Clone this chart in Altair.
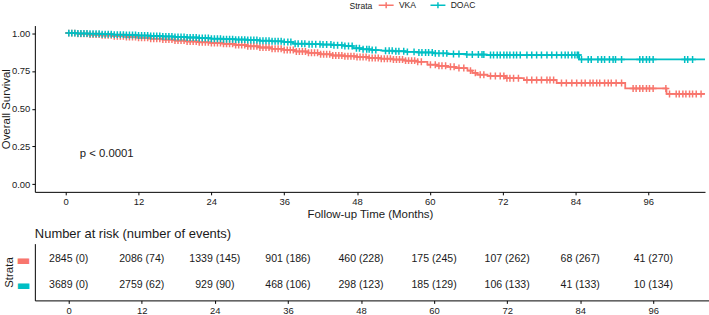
import altair as alt
import numpy as np
import pandas as pd

# Strata and their colours
GROUPS = ["VKA", "DOAC"]
COLORS = ["#F8766D", "#00BFC4"]

# Kaplan-Meier step points (months, survival probability)
VKA_TIME = [0, 2, 4, 6, 8, 10, 12, 14, 16, 18, 20, 22, 24, 26, 28, 30, 32, 34, 36, 38,
            40, 42, 44, 46, 48, 50, 52, 54, 56, 58, 59.6, 61.2, 62.8, 64.2, 66.2, 67.0,
            67.8, 69.5, 72.5, 75.5, 80.9, 92.2, 99.0, 105.6]
VKA_SURV = [1.000, 0.995, 0.990, 0.985, 0.980, 0.975, 0.969, 0.963, 0.957, 0.951, 0.945,
            0.939, 0.934, 0.929, 0.921, 0.913, 0.905, 0.896, 0.888, 0.879, 0.870, 0.860,
            0.852, 0.847, 0.842, 0.836, 0.831, 0.825, 0.818, 0.810, 0.791, 0.784, 0.777,
            0.769, 0.752, 0.737, 0.725, 0.717, 0.702, 0.690, 0.670, 0.634, 0.598, 0.598]

DOAC_TIME = [0, 2, 4, 6, 8, 10, 12, 14, 16, 18, 20, 22, 24, 26, 28, 30, 32, 34, 36, 37.5,
             40, 42, 44, 46, 47.3, 49, 50.5, 52, 54, 56, 58, 60.5, 63, 66, 69.4, 84.6, 105.6]
DOAC_SURV = [1.000, 0.998, 0.996, 0.993, 0.990, 0.987, 0.984, 0.981, 0.978, 0.975, 0.971,
             0.967, 0.963, 0.960, 0.957, 0.954, 0.950, 0.946, 0.941, 0.930, 0.927, 0.924,
             0.920, 0.915, 0.900, 0.893, 0.888, 0.884, 0.880, 0.876, 0.872, 0.866, 0.862,
             0.858, 0.855, 0.826, 0.826]

# Censoring times (months)
VKA_CENSOR = [
    0.5, 1.0, 1.5, 2.0, 2.5, 3.0, 3.5, 4.0, 4.5, 5.0, 5.5, 6.0, 6.5, 7.0, 7.5, 8.0,
    8.5, 9.0, 9.5, 10.0, 10.5, 11.0, 11.5, 12.0, 12.5, 13.0, 13.5, 14.0, 14.5, 15.0,
    15.5, 16.0, 16.5, 17.0, 17.5, 18.0, 18.5, 19.0, 19.5, 20.0, 20.5, 21.0, 21.5, 22.0,
    22.5, 23.0, 23.5, 24.0, 24.5, 25.0, 25.5, 26.0, 26.5, 27.0, 27.5, 28.0, 28.5, 29.0,
    29.5, 30.0, 30.5, 31.0, 31.5, 32.0, 32.5, 33.0, 33.5, 34.0, 34.5, 35.0, 35.5, 36.0,
    36.5, 37.0, 37.5, 38.0, 38.5, 39.0, 39.5, 40.0, 40.5, 41.0, 41.5, 42.0, 42.5, 43.0,
    43.5, 44.0, 44.5, 45.0, 45.5, 46.0, 46.5, 47.0, 47.5, 48.0, 48.5, 49.0, 49.5, 50.0,
    50.5, 51.0, 51.5, 52.0, 52.5, 53.0, 53.5, 54.0, 54.5, 55.0, 55.5, 56.0, 56.5, 57.0,
    57.5, 58.0, 58.6, 60.1, 60.9, 61.5, 62.0, 62.6, 63.4, 64.0, 64.8, 65.6, 66.7, 67.5,
    68.3, 68.9, 70.0, 70.8, 71.6, 72.2, 72.7, 73.2, 73.8, 74.6, 76.0, 76.8, 77.6, 78.4,
    79.3, 79.8, 80.4, 81.7, 82.5, 83.4, 84.2, 85.0, 85.6, 86.4, 86.9, 87.5, 88.0, 88.8,
    89.4, 89.9, 90.7, 91.6, 93.5, 94.0, 94.6, 95.1, 95.7, 96.2, 96.8, 98.9, 99.5, 100.6,
    101.1, 101.7, 102.2, 102.8, 103.3, 103.9, 104.7,
]
DOAC_CENSOR = [
    0.5, 1.0, 1.5, 2.0, 2.5, 3.0, 3.5, 4.0, 4.5, 5.0, 5.5, 6.0, 6.5, 7.0, 7.5, 8.0,
    8.5, 9.0, 9.5, 10.0, 10.5, 11.0, 11.5, 12.0, 12.5, 13.0, 13.5, 14.0, 14.5, 15.0,
    15.5, 16.0, 16.5, 17.0, 17.5, 18.0, 18.5, 19.0, 19.5, 20.0, 20.5, 21.0, 21.5, 22.0,
    22.5, 23.0, 23.5, 24.0, 24.5, 25.0, 25.5, 26.0, 26.5, 27.0, 27.5, 28.0, 28.5, 29.0,
    29.5, 30.0, 30.5, 31.0, 31.5, 32.0, 32.5, 33.0, 33.5, 34.0, 34.5, 35.0, 35.5, 36.0,
    36.6, 37.1, 37.8, 38.3, 38.9, 39.4, 40.1, 40.6, 41.2, 41.9, 42.4, 43.0, 43.7, 44.2,
    44.8, 45.5, 46.0, 46.6, 47.2, 47.9, 48.4, 49.0, 49.6, 50.0, 50.5, 51.1, 52.7, 53.3,
    53.8, 54.4, 54.9, 55.7, 56.3, 57.4, 58.2, 58.7, 59.3, 59.8, 60.4, 60.9, 61.5, 62.2,
    62.8, 63.9, 64.8, 66.1, 67.0, 68.0, 68.6, 68.9, 70.0, 70.5, 71.1, 71.6, 72.2, 72.7,
    73.2, 73.8, 74.3, 74.9, 76.0, 76.8, 77.6, 78.4, 79.3, 80.1, 80.9, 81.7, 82.3, 82.8,
    83.4, 83.9, 84.3, 84.5, 85.0, 86.1, 86.6, 87.7, 88.3, 88.8, 89.6, 90.2, 90.6, 91.6,
    94.6, 95.1, 95.7, 96.2, 96.8, 102.0, 102.5, 103.3,
]

# Number at risk table
RISK_MONTHS = [0, 12, 24, 36, 48, 60, 72, 84, 96]
VKA_AT_RISK = [2845, 2086, 1339, 901, 460, 175, 107, 68, 41]
VKA_EVENTS = [0, 74, 145, 186, 228, 245, 262, 267, 270]
DOAC_AT_RISK = [3689, 2759, 929, 468, 298, 185, 106, 41, 10]
DOAC_EVENTS = [0, 62, 90, 106, 123, 129, 133, 133, 134]

SURV_TICKS = [0, 0.25, 0.5, 0.75, 1.0]
P_TEXT = "p < 0.0001"
P_POS = (2.3, 0.2)

FONT = "Liberation Sans"
INK = "#1a1a1a"

# ---- tidy tables -------------------------------------------------------
curves = pd.concat([
    pd.DataFrame({"time": VKA_TIME, "surv": VKA_SURV, "strata": "VKA"}),
    pd.DataFrame({"time": DOAC_TIME, "surv": DOAC_SURV, "strata": "DOAC"}),
], ignore_index=True)


def censor_frame(times, step_t, step_s, name):
    t = np.asarray(times, dtype=float)
    idx = np.searchsorted(np.asarray(step_t, dtype=float), t, side="right") - 1
    return pd.DataFrame({"time": t, "surv": np.asarray(step_s)[idx], "strata": name})


censors = pd.concat([
    censor_frame(VKA_CENSOR, VKA_TIME, VKA_SURV, "VKA"),
    censor_frame(DOAC_CENSOR, DOAC_TIME, DOAC_SURV, "DOAC"),
], ignore_index=True)

risk = pd.concat([
    pd.DataFrame({"month": RISK_MONTHS, "strata": "VKA",
                  "label": [f"{n} ({e})" for n, e in zip(VKA_AT_RISK, VKA_EVENTS)]}),
    pd.DataFrame({"month": RISK_MONTHS, "strata": "DOAC",
                  "label": [f"{n} ({e})" for n, e in zip(DOAC_AT_RISK, DOAC_EVENTS)]}),
], ignore_index=True)

ptext = pd.DataFrame({"time": [P_POS[0]], "surv": [P_POS[1]], "label": [P_TEXT]})

# ---- survival panel ----------------------------------------------------
x_main = alt.X(
    "time:Q",
    scale=alt.Scale(domain=[-5.09, 105.35], nice=False, zero=False),
    axis=alt.Axis(values=RISK_MONTHS, title="Follow-up Time (Months)", grid=False,
                  tickSize=3, labelPadding=2, titlePadding=2),
)
y_main = alt.Y(
    "surv:Q",
    scale=alt.Scale(domain=[-0.05, 1.05], nice=False, zero=False),
    axis=alt.Axis(values=SURV_TICKS, format=".2f", title="Overall Survival", grid=False,
                  tickSize=3, labelPadding=2, minExtent=23, maxExtent=23, titlePadding=0),
)
color = alt.Color(
    "strata:N",
    scale=alt.Scale(domain=GROUPS, range=COLORS),
    legend=alt.Legend(
        title="Strata", orient="none", direction="horizontal", titleOrient="left",
        legendX=316, legendY=-25, symbolType="M-2.5,0H2.5M0,-1V1", symbolSize=36,
        symbolStrokeWidth=1.5, symbolFillColor="transparent", labelFontSize=8.6,
        titleFontSize=8.6, titleFontWeight="normal", labelFont=FONT, titleFont=FONT,
        labelColor=INK, titleColor=INK, columnPadding=10, labelOffset=8.5,
        titlePadding=9.5,
    ),
)

lines = alt.Chart(curves).mark_line(
    interpolate="step-after", strokeWidth=1.8, clip=True
).encode(x=x_main, y=y_main, color=color, detail="strata:N")

marks = alt.Chart(censors).mark_point(
    shape="M-1,0H1M0,-1V1", filled=False, size=49, strokeWidth=1.5, opacity=1, clip=True
).encode(x="time:Q", y="surv:Q",
         color=alt.Color("strata:N", scale=alt.Scale(domain=GROUPS, range=COLORS)))

pval = alt.Chart(ptext).mark_text(
    align="left", baseline="middle", fontSize=11.4, font=FONT, color=INK
).encode(x="time:Q", y="surv:Q", text="label:N")

main = alt.layer(lines, marks, pval).properties(width=673, height=167)

# ---- number-at-risk panel ---------------------------------------------
table = alt.Chart(risk).mark_text(
    fontSize=10.6, font=FONT, color=INK, baseline="middle"
).encode(
    x=alt.X("month:Q",
            scale=alt.Scale(domain=[-5.56, 105.15], nice=False, zero=False),
            axis=alt.Axis(values=RISK_MONTHS, title=None, grid=False, tickSize=3,
                          labelPadding=2)),
    y=alt.Y("strata:N",
            scale=alt.Scale(domain=GROUPS, type="point", padding=0.6),
            axis=alt.Axis(title="Strata", labelExpr="'\u25ac'", ticks=False,
                          labelFont="DejaVu Sans", labelFontSize=15, labelPadding=5,
                          labelColor={"condition": {"test": "datum.value == 'VKA'",
                                                    "value": COLORS[0]},
                                      "value": COLORS[1]},
                          minExtent=17, maxExtent=17, titlePadding=3)),
    text="label:N",
).properties(
    width=677, height=57,
    title=alt.TitleParams("Number at risk (number of events)", anchor="start",
                          frame="group", fontSize=13, fontWeight="normal", font=FONT,
                          color=INK, offset=3),
)

chart = alt.vconcat(main, table, spacing=8).properties(
    padding={"left": 1, "top": 0, "right": 0, "bottom": 0}
).configure_view(stroke=None).configure_axis(
    labelFont=FONT, titleFont=FONT, labelFontSize=9.5, titleFontSize=11.5,
    titleFontWeight="normal", labelColor=INK, titleColor=INK,
    domainColor="black", tickColor="black", domainWidth=1, tickWidth=1,
)

chart.save("out.html", embed_options={"renderer": "svg", "actions": False})
